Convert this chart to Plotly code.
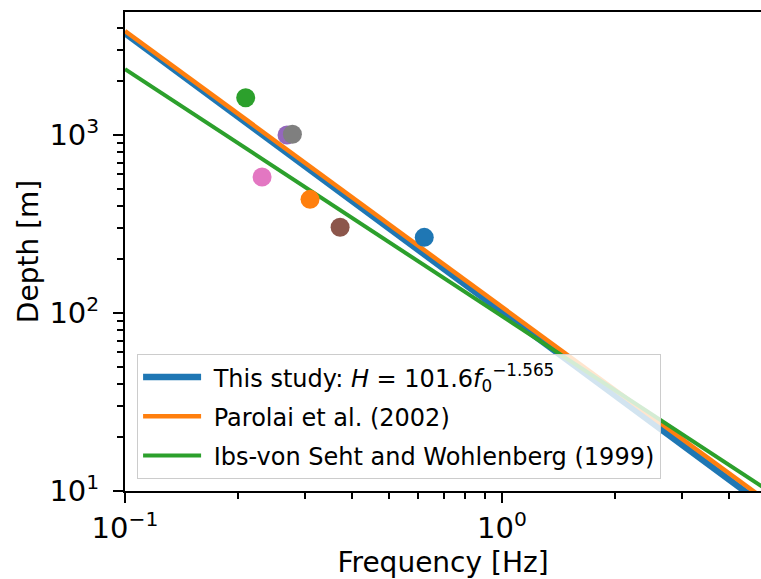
import plotly.graph_objects as go
import numpy as np

# ---- data ----
site_freq = [0.622, 0.3096, 0.209, 0.269, 0.372, 0.231, 0.278]
site_depth = [266, 435, 1620, 1000, 303, 581, 1010]
site_colors = ["#1f77b4", "#ff7f0e", "#2ca02c", "#9467bd", "#8c564b", "#e377c2", "#7f7f7f"]

model_names = [
    "\u00a0This study: <i>H</i> = 101.6<i>f</i><sub>0</sub><sup>−1.565</sup>",
    "\u00a0Parolai et al. (2002)",
    "\u00a0Ibs-von Seht and Wohlenberg (1999)",
]
model_a = [101.6, 108.0, 96.0]
model_b = [-1.565, -1.551, -1.388]
model_colors = ["#1f77b4", "#ff7f0e", "#2ca02c"]
model_widths = [6.5, 4.5, 4]
freq_span = [0.1, 6.0]

x_tickvals = [0.1, 1]
x_ticktext = ["10<sup>−1</sup>", "10<sup>0</sup>"]
y_tickvals = [10, 100, 1000]
y_ticktext = ["10<sup>1</sup>", "10<sup>2</sup>", "10<sup>3</sup>"]

FONT = "DejaVu Sans"
fig = go.Figure()

fspan = np.array(freq_span)
for i, (name, a, b, c, w) in enumerate(zip(model_names, model_a, model_b, model_colors, model_widths)):
    fig.add_trace(go.Scatter(
        x=fspan, y=a * fspan ** b, mode="lines", name=name,
        line=dict(color=c, width=w), legendgroup=f"g{i}", hoverinfo="skip",
    ))

for f, d, c in zip(site_freq, site_depth, site_colors):
    fig.add_trace(go.Scatter(
        x=[f], y=[d], mode="markers", showlegend=False,
        marker=dict(color=c, size=19, line=dict(width=0)),
    ))

x_minor = [k * 0.1 for k in range(2, 10)] + [2, 3, 4, 5, 6]
y_minor = [k * 10 for k in range(2, 10)] + [k * 100 for k in range(2, 10)] + [2000, 3000, 4000]

fig.update_layout(
    width=761, height=579,
    margin=dict(l=125, r=0, t=12, b=88),
    paper_bgcolor="white", plot_bgcolor="white",
    font=dict(family=FONT, color="black"),
    showlegend=True,
    legend=dict(
        x=0.019, y=0.025, xanchor="left", yanchor="bottom",
        bgcolor="rgba(255,255,255,0.8)", bordercolor="#cccccc", borderwidth=1,
        font=dict(family=FONT, size=24, color="black"),
        tracegroupgap=5, itemwidth=58,
    ),
    xaxis=dict(
        type="log", range=[-1, 0.687],
        title=dict(text="Frequency [Hz]", font=dict(size=28), standoff=12),
        tickmode="array", tickvals=x_tickvals, ticktext=x_ticktext,
        tickfont=dict(size=29), ticks="outside", ticklen=10, tickwidth=2, tickcolor="black",
        minor=dict(tickmode="array", tickvals=x_minor, ticks="outside", ticklen=6, tickwidth=1.5, tickcolor="black", showgrid=False),
        showline=True, linecolor="black", linewidth=2, mirror=True,
        showgrid=False, zeroline=False, automargin=False,
    ),
    yaxis=dict(
        type="log", range=[1, 3.691],
        title=dict(text="Depth [m]", font=dict(size=28), standoff=3),
        tickmode="array", tickvals=y_tickvals, ticktext=y_ticktext,
        tickfont=dict(size=29), ticks="outside", ticklen=10, tickwidth=2, tickcolor="black",
        ticklabelstandoff=8,
        minor=dict(tickmode="array", tickvals=y_minor, ticks="outside", ticklen=6, tickwidth=1.5, tickcolor="black", showgrid=False),
        showline=True, linecolor="black", linewidth=2, mirror=False,
        showgrid=False, zeroline=False, automargin=False,
    ),
)

fig.write_html(
    "out.html",
    config={"displayModeBar": False},
    post_script="document.body.style.margin='0';document.body.style.overflow='hidden';",
)
